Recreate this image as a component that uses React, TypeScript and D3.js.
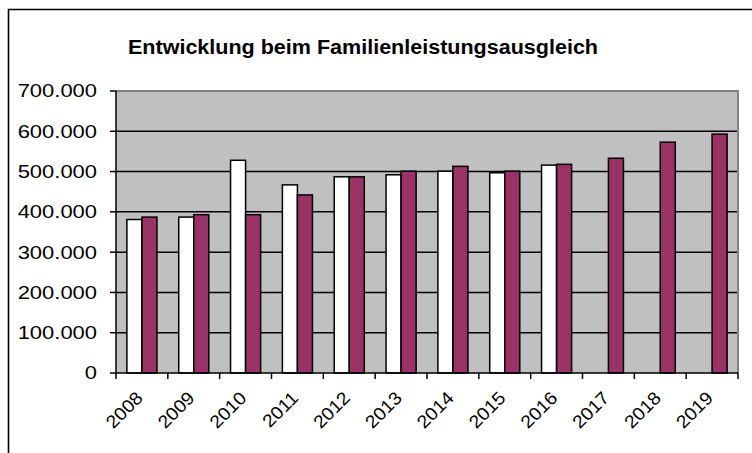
import React from "react";
import * as d3 from "d3";

const years = ["2008","2009","2010","2011","2012","2013","2014","2015","2016","2017","2018","2019"];
const seriesWhite: (number | null)[] = [381000, 387000, 528000, 467000, 487000, 492000, 501000, 497000, 516000, null, null, null];
const seriesPurple: number[] = [387000, 393000, 393000, 442000, 487000, 501000, 513000, 501000, 518000, 533000, 573000, 593000];
const yTicks = [0, 100000, 200000, 300000, 400000, 500000, 600000, 700000];
const title = "Entwicklung beim Familienleistungsausgleich";

const W = 752, H = 453;
const plot = { left: 116, right: 738, top: 91, bottom: 373 };
const FONT = "'Liberation Sans', Arial, sans-serif";

const fmt = (v: number) => (v === 0 ? "0" : d3.format(",")(v).replace(/,/g, "."));

export default function App() {
  const x = d3.scaleBand<string>().domain(years).range([plot.left, plot.right]).paddingInner(0.42).paddingOuter(0.21);
  const xs = d3.scaleBand<string>().domain(["w", "p"]).range([0, x.bandwidth()]);
  const y = d3.scaleLinear().domain([0, 700000]).range([plot.bottom, plot.top]);
  const step = x.step();

  return (
    <svg width={W} height={H} style={{ position: "absolute", left: 0, top: 0, display: "block" }}>
      <rect x={0} y={0} width={W} height={H} fill="#fff" />
      {/* outer frame */}
      <path d={`M8.5,${H + 2} V9.5 H${W + 2}`} fill="none" stroke="#000" strokeWidth={1.6} />
      {/* title */}
      <text x={128} y={54} fontFamily={FONT} fontWeight="bold" fontSize={20} fill="#000" textLength={470} lengthAdjust="spacingAndGlyphs">{title}</text>
      {/* plot area */}
      <rect x={plot.left} y={plot.top} width={plot.right - plot.left} height={plot.bottom - plot.top} fill="#c0c0c0" />
      {/* gridlines */}
      {yTicks.filter(t => t > 0 && t < 700000).map(t => (
        <line key={t} x1={plot.left} x2={plot.right} y1={y(t)} y2={y(t)} stroke="#000" strokeWidth={1.5} />
      ))}
      {/* plot border shadow */}
      <path d={`M${plot.left},${plot.top} H${plot.right} V${plot.bottom}`} fill="none" stroke="#808080" strokeWidth={2} />
      {/* bars */}
      {years.map((yr, i) => {
        const x0 = x(yr)!;
        const w = seriesWhite[i];
        const p = seriesPurple[i];
        return (
          <g key={yr}>
            {w != null && (
              <rect x={x0 + xs("w")!} y={y(w)} width={xs.bandwidth()} height={y(0) - y(w)} fill="#ffffff" stroke="#000" strokeWidth={1.5} />
            )}
            <rect x={x0 + xs("p")!} y={y(p)} width={xs.bandwidth()} height={y(0) - y(p)} fill="#993366" stroke="#000" strokeWidth={1.5} />
          </g>
        );
      })}
      {/* axes */}
      <line x1={plot.left} x2={plot.left} y1={plot.top} y2={plot.bottom} stroke="#000" strokeWidth={1.5} />
      <line x1={plot.left} x2={plot.right} y1={plot.bottom} y2={plot.bottom} stroke="#000" strokeWidth={1.5} />
      {yTicks.map(t => (
        <g key={t}>
          <line x1={plot.left - 6} x2={plot.left} y1={y(t)} y2={y(t)} stroke="#000" strokeWidth={1.5} />
          <g transform={`translate(97,${y(t)}) scale(1.22,1)`}>
            <text x={0} y={0} dy="0.36em" textAnchor="end" fontFamily={FONT} fontSize={18} fill="#000">{fmt(t)}</text>
          </g>
        </g>
      ))}
      {d3.range(years.length + 1).map(i => (
        <line key={i} x1={plot.left + i * step} x2={plot.left + i * step} y1={plot.bottom} y2={plot.bottom + 6} stroke="#000" strokeWidth={1.5} />
      ))}
      {years.map(yr => {
        const cx = x(yr)! + x.bandwidth() / 2;
        return (
          <text key={yr} transform={`translate(${cx + 2},${plot.bottom + 26}) rotate(-45) scale(1.08,1)`} textAnchor="end" fontFamily={FONT} fontSize={18} fill="#000">{yr}</text>
        );
      })}
    </svg>
  );
}
